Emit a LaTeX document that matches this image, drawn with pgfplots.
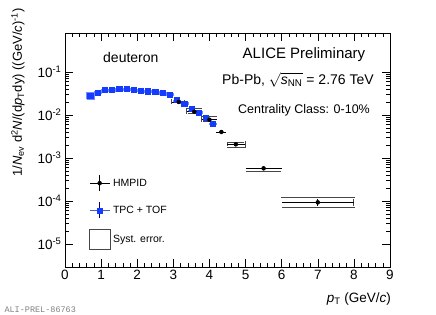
\documentclass[border=0pt]{standalone}
\usepackage{fontspec}
\setmainfont{Liberation Sans}
\setmonofont{Liberation Mono}
\usepackage{pgfplots}
\usepackage{pgfplotstable}
\pgfplotsset{compat=1.18}
\definecolor{tblue}{RGB}{20,60,255}
\definecolor{boxgray}{RGB}{70,70,70}
\newcommand\fs[1]{\fontsize{#1}{#1}\selectfont}
\newcommand\sysbox[5][]{\addplot[#1] coordinates {(#2,#4) (#3,#4) (#3,#5) (#2,#5) (#2,#4)};}

\pgfplotstableread{
x y
0.7 0.0281
0.9 0.0337
1.1 0.0381
1.3 0.0380
1.5 0.0403
1.7 0.0403
1.9 0.0385
2.1 0.0367
2.3 0.0358
2.5 0.0343
2.7 0.0325
2.9 0.0300
3.1 0.0223
3.3 0.0187
3.5 0.0138
3.7 0.0114
3.9 0.00865
4.1 0.00641
}\tpctof

\pgfplotstableread{
x y ex ey
3.15 0.0201 0.18 0.0008
3.58 0.0119 0.20 0.0005
4.00 0.00778 0.20 0.0004
4.33 0.00403 0.14 0.0003
4.73 0.00208 0.25 0.00018
5.50 5.75e-4 0.50 6e-5
7.00 9.3e-5 1.00 1.6e-5
}\hmpid

\begin{document}
\begin{tikzpicture}
\path[use as bounding box] (0bp,0bp) rectangle (436bp,315bp);
\begin{axis}[
  at={(65bp,48bp)}, anchor=south west,
  scale only axis, width=325bp, height=234bp,
  xmin=0, xmax=9, ymode=log, ymin=2.92e-6, ymax=0.807,
  xtick={0,1,...,9}, minor x tick num=4,
  ytick={1e-5,1e-4,1e-3,1e-2,1e-1},
  yticklabels={10\textsuperscript{-5},10\textsuperscript{-4},10\textsuperscript{-3},10\textsuperscript{-2},10\textsuperscript{-1}},
  major tick length=8bp, minor tick length=4bp,
  tick style={black, line width=0.5bp},
  axis line style={line width=0.8bp},
  tick label style={font=\fs{13.5bp}},
  /pgf/number format/assume math mode=true,
  legend style={at={(0.065,0.403)}, anchor=north west, draw=none, fill=none,
    font=\fs{10.5bp}, row sep=10.5bp, legend cell align=left},
  legend cell align=left,
]
\addlegendimage{legend image code/.code={
  \draw[black,line width=0.6bp] (0bp,0bp) -- (20bp,0bp);
  \draw[black,line width=0.6bp] (10bp,-8bp) -- (10bp,8bp);
  \fill[black] (10bp,0bp) circle (2bp);}}
\addlegendentry{HMPID}
\addlegendimage{legend image code/.code={
  \draw[tblue!50!gray,line width=0.6bp] (0bp,0bp) -- (20bp,0bp);
  \draw[blue!50!black,line width=0.6bp] (10bp,-8bp) -- (10bp,8bp);
  \fill[tblue] (7.5bp,-2.5bp) rectangle (12.5bp,2.5bp);}}
\addlegendentry{TPC + TOF}
\addlegendimage{legend image code/.code={
  \draw[boxgray,line width=0.7bp] (0bp,-10bp) rectangle (21bp,10bp);}}
\addlegendentry{Syst. error.}

% TPC+TOF systematic boxes
\pgfplotsset{tbox/.style={forget plot, draw=tblue!60!white, line width=0.5bp, mark=none}}
\sysbox[tbox]{0.6}{0.8}{0.0234}{0.0337}
\sysbox[tbox]{0.8}{1.0}{0.0321}{0.0354}
\sysbox[tbox]{1.0}{1.2}{0.0363}{0.0400}
\sysbox[tbox]{1.2}{1.4}{0.0362}{0.0399}
\sysbox[tbox]{1.4}{1.6}{0.0384}{0.0423}
\sysbox[tbox]{1.6}{1.8}{0.0384}{0.0423}
\sysbox[tbox]{1.8}{2.0}{0.0367}{0.0404}
\sysbox[tbox]{2.0}{2.2}{0.0350}{0.0385}
\sysbox[tbox]{2.2}{2.4}{0.0341}{0.0376}
\sysbox[tbox]{2.4}{2.6}{0.0327}{0.0360}
\sysbox[tbox]{2.6}{2.8}{0.0310}{0.0341}
\sysbox[tbox]{2.8}{3.0}{0.0286}{0.0315}
\sysbox[tbox]{3.0}{3.2}{0.0212}{0.0234}
\sysbox[tbox]{3.2}{3.4}{0.0178}{0.0196}
\sysbox[tbox]{3.4}{3.6}{0.0131}{0.0145}
\sysbox[tbox]{3.6}{3.8}{0.01086}{0.01197}
\sysbox[tbox]{3.8}{4.0}{0.00824}{0.00908}
\sysbox[tbox]{4.0}{4.2}{0.00610}{0.00673}

% HMPID systematic boxes
\pgfplotsset{hbox/.style={forget plot, draw=boxgray, line width=0.45bp, double=white, double distance=0.7bp, mark=none}}
\sysbox[hbox]{2.97}{3.33}{0.01759}{0.02297}
\sysbox[hbox]{3.38}{3.78}{0.01041}{0.01360}
\sysbox[hbox]{3.80}{4.20}{0.00681}{0.00889}
\sysbox[hbox]{4.19}{4.47}{0.00353}{0.00461}
\sysbox[hbox]{4.48}{4.98}{0.00182}{0.00238}
\sysbox[hbox]{5.00}{6.00}{4.70e-4}{7.03e-4}
\sysbox[hbox]{6.00}{8.00}{7.35e-5}{1.177e-4}

\addplot[forget plot, only marks, mark=square*, mark size=2.6bp, color=tblue] table[x=x,y=y] {\tpctof};

\addplot[forget plot, only marks, mark=*, mark size=2bp, color=black,
  error bars/.cd, x dir=both, x explicit, y dir=both, y explicit,
  error mark=none, error bar style={line width=0.6bp, black}]
  table[x=x, y=y, x error=ex, y error=ey] {\hmpid};
\end{axis}

\node[anchor=west, inner sep=0pt, font=\fs{14bp}] at (103bp,258bp) {deuteron};
\node[inner sep=0pt, font=\fs{15bp}] at (304bp,260.5bp) {ALICE Preliminary};
\node[inner sep=0pt, font=\fs{14bp}] at (298bp,235bp) {Pb-Pb, $\sqrt{\mbox{\textit{s}\smash{\textsubscript{NN}}}}$ = 2.76 TeV};
\node[inner sep=0pt, font=\fs{12.5bp}] at (304bp,205bp) {Centrality Class: 0-10\%};
\node[anchor=east, inner sep=0pt, font=\fs{13.5bp}] at (391bp,16bp) {\textit{p}\textsubscript{T} (GeV/\textit{c})};
\node[rotate=90, anchor=east, font=\fs{13bp}] at (18bp,310bp) {1/\textit{N}\textsubscript{ev} d\textsuperscript{2}\textit{N}/(d\textit{p}\textsubscript{T}dy) ((GeV/\textit{c})\textsuperscript{-1})};
\node[anchor=west, font=\ttfamily\fs{8.5bp}, text=gray] at (1bp,5bp) {ALI-PREL-86763};
\end{tikzpicture}
\end{document}
